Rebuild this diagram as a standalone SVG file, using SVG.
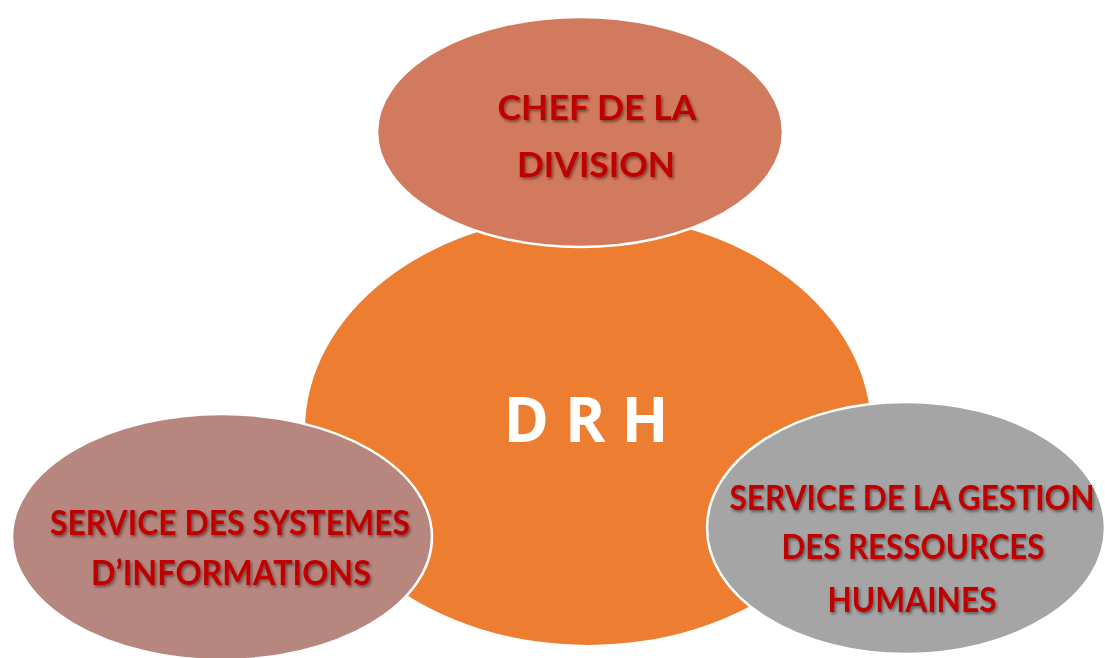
<svg xmlns="http://www.w3.org/2000/svg" width="1105" height="658" viewBox="0 0 1105 658">
<defs>
<filter id="sh" x="-10%" y="-30%" width="120%" height="160%">
<feDropShadow dx="1.5" dy="2" stdDeviation="1.5" flood-color="#000" flood-opacity="0.45"/>
</filter>
<style>
.bub{stroke:#fff;stroke-width:2.5}
.lbl{font-family:"Lato","Open Sans","Liberation Sans",sans-serif;font-weight:bold;font-size:35px;fill:#C00000;text-anchor:middle;filter:url(#sh)}
.drh{font-family:"Open Sans","Liberation Sans",sans-serif;font-weight:bold;font-size:62px;fill:#fff;text-anchor:middle}
</style>
</defs>
<rect width="1105" height="658" fill="#fff"/>
<g id="connectors"></g>
<g id="node-drh">
<ellipse cx="588" cy="430" rx="283" ry="215" fill="#ED7D31"/>
<text class="drh" x="586" y="442" textLength="165" lengthAdjust="spacingAndGlyphs">D R H</text>
</g>
<g id="node-chef">
<ellipse class="bub" cx="580" cy="132" rx="203" ry="115" fill="#D27A5E"/>
<text class="lbl" x="597" y="120" textLength="199" lengthAdjust="spacingAndGlyphs">CHEF DE LA</text>
<text class="lbl" x="596" y="177" textLength="158" lengthAdjust="spacingAndGlyphs">DIVISION</text>
</g>
<g id="node-ssi">
<ellipse class="bub" cx="222" cy="537" rx="210" ry="123" fill="#B7877F"/>
<text class="lbl" x="230" y="535" textLength="360" lengthAdjust="spacingAndGlyphs">SERVICE DES SYSTEMES</text>
<text class="lbl" x="231" y="585" textLength="280" lengthAdjust="spacingAndGlyphs">D’INFORMATIONS</text>
</g>
<g id="node-grh">
<ellipse class="bub" cx="906" cy="528" rx="199" ry="126" fill="#A5A5A5"/>
<text class="lbl" x="912" y="510" textLength="365" lengthAdjust="spacingAndGlyphs">SERVICE DE LA GESTION</text>
<text class="lbl" x="913" y="559" textLength="263" lengthAdjust="spacingAndGlyphs">DES RESSOURCES</text>
<text class="lbl" x="912" y="612" textLength="169" lengthAdjust="spacingAndGlyphs">HUMAINES</text>
</g>
</svg>
